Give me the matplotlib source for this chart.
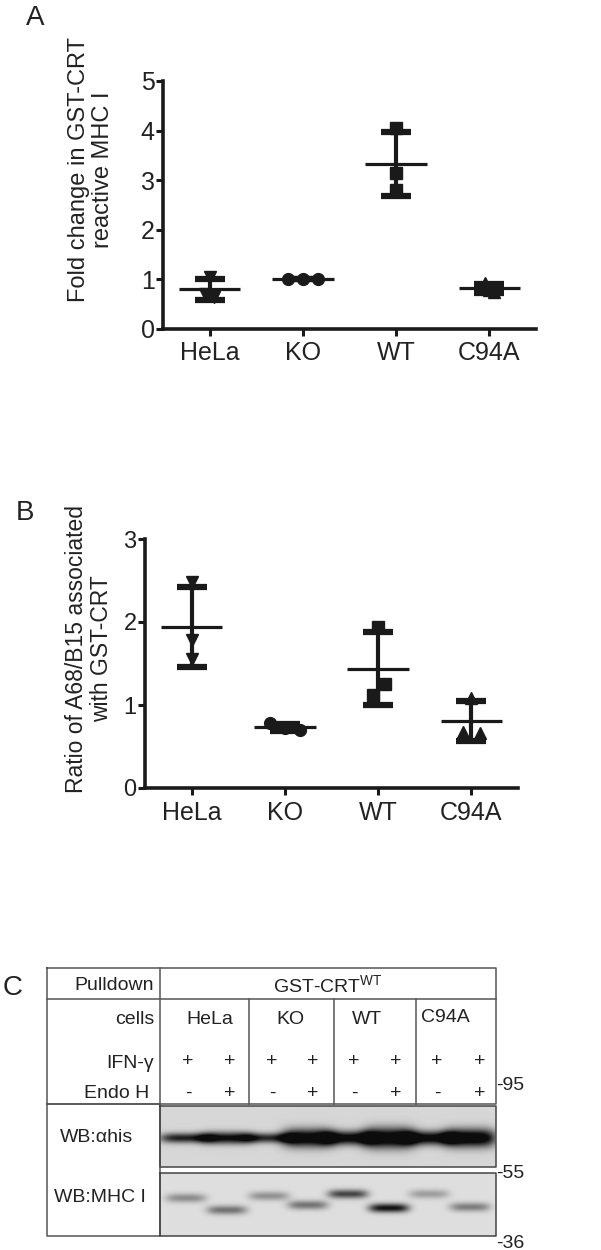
import numpy as np
import matplotlib
matplotlib.use("Agg")
import matplotlib.pyplot as plt

plt.rcParams['font.family'] = ['Liberation Sans', 'DejaVu Sans']

# ---------------- data ----------------
groups = ['HeLa', 'KO', 'WT', 'C94A']
markers = ['v', 'o', 's', '^']

# panel A: fold change in GST-CRT reactive MHC I (3 replicates each)
foldA = [[1.05, 0.70, 0.65],
         [1.00, 1.00, 1.00],
         [4.05, 3.15, 2.80],
         [0.92, 0.78, 0.75]]
jitA = [[0.0, -0.05, 0.05],
        [-0.16, 0.0, 0.16],
        [0.0, 0.0, 0.0],
        [-0.05, 0.0, 0.05]]

# panel B: ratio of A68/B15 associated with GST-CRT
ratioB = [[2.48, 1.78, 1.56],
          [0.78, 0.72, 0.70],
          [1.94, 1.25, 1.12],
          [1.08, 0.68, 0.66]]
jitB = [[0.0, 0.0, 0.0],
        [-0.16, 0.0, 0.16],
        [0.0, 0.07, -0.05],
        [0.0, -0.09, 0.09]]

# panel C: blot
cell_lines = ['HeLa', 'KO', 'WT', 'C94A']
ifn = ['+'] * 8
endoh = ['-', '+', '-', '+', '-', '+', '-', '+']
his_dark = [0.72, 0.82, 0.68, 0.95, 0.88, 1.0, 0.88, 1.0]
his_half = [5, 6, 5, 9, 7, 10, 7, 9]
mhc_dark = [0.32, 0.42, 0.30, 0.42, 0.60, 0.80, 0.25, 0.38]
mhc_y = [1198, 1210, 1196, 1205, 1194, 1208, 1194, 1207]
mw_labels = ['95', '55', '36']

W, H = 601, 1250
fig = plt.figure(figsize=(W / 100, H / 100), dpi=100)


def px(l, t, r, b):
    return [l / W, 1 - b / H, (r - l) / W, (b - t) / H]


# ---- overlay axes in pixel coordinates for panel C ----
axc = fig.add_axes([0, 0, 1, 1])
axc.patch.set_visible(False)
axc.set_axis_off()


def scatter_panel(rect, vals, jit, ymax, ylab, lab_xy, tick_fs, lab_fs):
    ax = fig.add_axes(rect)
    for i, v in enumerate(vals):
        v = np.array(v)
        m = v.mean()
        sd = v.std(ddof=1)
        ax.errorbar(i, m, yerr=sd, fmt='none', ecolor='#1a1a1a',
                    elinewidth=3.0, capsize=11, capthick=4.5, zorder=3)
        ax.hlines(m, i - 0.33, i + 0.33, color='#1a1a1a', lw=2.3, zorder=3)
        ax.plot(i + np.array(jit[i]), v, linestyle='none', marker=markers[i],
                ms=8.5, color='#1a1a1a', zorder=4)
    ax.set_xlim(-0.5, 3.5)
    ax.set_ylim(0, ymax)
    ax.set_xticks(range(4))
    ax.set_xticklabels(groups, fontsize=18, color='#222222')
    ax.set_yticks(range(ymax + 1))
    ax.tick_params(axis='y', labelsize=tick_fs, width=2.2, length=5, pad=1,
                   color='#1a1a1a', labelcolor='#222222')
    ax.tick_params(axis='x', width=2.2, length=5, pad=4, color='#1a1a1a')
    for s in ['top', 'right']:
        ax.spines[s].set_visible(False)
    for s in ['left', 'bottom']:
        ax.spines[s].set_linewidth(2.6)
        ax.spines[s].set_color('#1a1a1a')
    ax.spines['left'].set_bounds(0, ymax)
    fig.text(lab_xy[0] / W, 1 - lab_xy[1] / H, ylab, rotation=90, ha='center',
             va='center', fontsize=lab_fs, multialignment='center', linespacing=1.15,
             color='#222222')
    return ax


scatter_panel(px(163, 81, 536, 329), foldA, jitA, 5,
              'Fold change in GST-CRT\nreactive MHC I', (91, 170), 18, 17)
scatter_panel(px(145, 539, 518, 788), ratioB, jitB, 3,
              'Ratio of A68/B15 associated\nwith GST-CRT', (89, 649), 17, 16.5)

fig.text(26 / W, 1 - 18 / H, 'A', fontsize=20, ha='left', va='center', color='#222222')
fig.text(16 / W, 1 - 513 / H, 'B', fontsize=20, ha='left', va='center', color='#222222')
fig.text(3 / W, 1 - 988 / H, 'C', fontsize=20, ha='left', va='center', color='#222222')

# ---------------- panel C table ----------------
L, R, T, B = 47, 496, 968, 1236
mid = 160
lc = '#555555'
lw = 1.1
axc.plot([L, R, R, L, L], [T, T, 1104, 1104, T], color=lc, lw=lw)
axc.plot([L, R], [999, 999], color=lc, lw=lw)
axc.plot([mid, mid], [T, 1104], color=lc, lw=lw)
for xd in [249, 334, 416]:
    axc.plot([xd, xd], [999, 1104], color=lc, lw=lw)
axc.plot([L, mid, mid, L, L], [1104, 1104, B, B, 1104], color=lc, lw=lw)

fs = 14
tc = '#222222'
axc.text(154, 986, 'Pulldown', ha='right', va='center', fontsize=fs, color=tc)
axc.text(328, 986, r'GST-CRT$^{\mathregular{WT}}$', ha='center', va='center', fontsize=fs, color=tc)
axc.text(154, 1020, 'cells', ha='right', va='center', fontsize=fs, color=tc)
for name, xc, yc in zip(cell_lines, [210, 290, 367, 445], [1020, 1020, 1020, 1017]):
    axc.text(xc, yc, name, ha='center', va='center', fontsize=fs, color=tc)
axc.text(154, 1063, 'IFN-γ', ha='right', va='center', fontsize=fs, color=tc)
axc.text(149, 1093, 'Endo H', ha='right', va='center', fontsize=fs, color=tc)
sign_x = [188, 230, 272, 313, 354, 396, 437, 480]
for xs, a, b in zip(sign_x, ifn, endoh):
    axc.text(xs, 1062, a, ha='center', va='center', fontsize=fs, color=tc)
    axc.text(xs, 1093, b, ha='center', va='center', fontsize=fs, color=tc)
axc.text(97, 1138, 'WB:αhis', ha='center', va='center', fontsize=fs, color=tc)
axc.text(100, 1198, 'WB:MHC I', ha='center', va='center', fontsize=fs, color=tc)

# ---------------- blots ----------------
lane_x = [186, 227, 269, 308, 348, 389, 429, 470]


def blot(top, bot, bg, bands):
    xs = np.arange(160, 496) + 0.5
    ys = np.arange(top, bot) + 0.5
    X, Y = np.meshgrid(xs, ys)
    img = np.full(X.shape, bg)
    for xc, yc, dark, hw, hh in bands:
        img -= dark * np.exp(-np.abs((X - xc) / hw) ** 4) * np.exp(-((Y - yc) / hh) ** 2)
    img = np.clip(img, 0.05, 1)
    axc.imshow(img, cmap='gray', vmin=0, vmax=1, extent=(160, 496, bot, top),
               aspect='auto', interpolation='bilinear', zorder=1)
    axc.plot([160, 496, 496, 160, 160], [top, top, bot, bot, top], color='#444444', lw=1.1, zorder=2)


blot(1106, 1167, 0.84,
     [(x, 1138, d, 26, h) for x, d, h in zip(lane_x, his_dark, his_half)])
blot(1173, 1236, 0.87,
     [(x, y, d, 20, 4.5) for x, y, d in zip(lane_x, mhc_y, mhc_dark)])

for lab, yy in zip(mw_labels, [1086, 1173, 1243]):
    axc.text(496, yy, '-' + lab, ha='left', va='center', fontsize=fs, color=tc)

axc.set_xlim(0, W)
axc.set_ylim(H, 0)

fig.savefig('out.png', dpi=100)
